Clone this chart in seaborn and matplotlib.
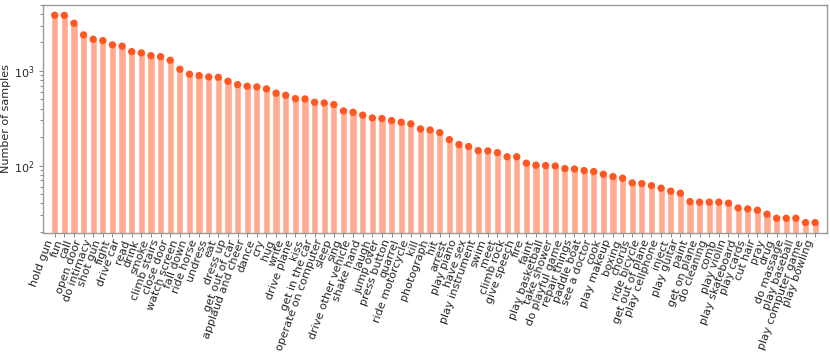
import numpy as np
import pandas as pd
import matplotlib
matplotlib.use("Agg")
import matplotlib.pyplot as plt
import seaborn as sns

# action classes, sorted by sample count
actions = [
    "hold gun", "fun", "call", "open door", "do intimacy", "shot gun", "fight",
    "drive car", "read", "drink", "smoke", "climb stairs", "close door",
    "watch screen", "fall down", "ride horse", "undress", "eat", "dress up",
    "get out of car", "applaud and cheer", "dance", "cry", "hug", "write",
    "drive plane", "kiss", "get in the car", "operate on computer", "sleep",
    "sing", "drive other vehicle", "shake hand", "laugh", "jump over",
    "press button", "quarrel", "ride motorcycle", "kill", "photograph", "hit",
    "arrest", "play piano", "have sex", "play instrument", "swim", "meet",
    "climb rock", "give speech", "fire", "faint", "play basketball",
    "take shower", "do playful game", "repair things", "paddle boat",
    "see a doctor", "cook", "play makeup", "boxing", "chorus", "ride bicycle",
    "get out of plane", "play cellphone", "inject", "play guitar", "paint",
    "get on plane", "do cleaning", "comb", "play violin", "play skateboard",
    "play cards", "cut hair", "pray", "drug", "do massage", "play baseball",
    "play computer game", "play bowling",
]

counts = [
    3875, 3860, 3190, 2400, 2160, 2090, 1885, 1825, 1600, 1550, 1450, 1415,
    1296, 1042, 923, 892, 864, 856, 778, 716, 689, 678, 646, 582, 553,
    510, 506, 467, 459, 441, 378, 366, 341, 319, 314, 299, 287, 276, 244,
    238, 223, 188, 167, 159, 144, 143, 137, 124, 124, 106, 101, 100, 99,
    93, 92, 88.6, 86.5, 81, 76.6, 73.6, 65.7, 64.6, 61.5, 57.7, 53.7, 51.1,
    41.7, 41.1, 41.1, 41.1, 40.1, 35.7, 34.9, 33.8, 30.7, 27.8, 27.8, 27.8,
    25, 25,
]

df = pd.DataFrame({"action": actions, "count": counts})
df["pos"] = np.arange(len(df))

sns.set_style("white")
plt.rcParams["font.family"] = ["DejaVu Sans"]

fig = plt.figure(figsize=(8.3, 3.59), dpi=100)
ax = fig.add_axes([0.052, 0.352, 0.944, 0.635])

sns.barplot(data=df, x="pos", y="count", color="#FFAB91", saturation=1,
            width=0.75, ax=ax, native_scale=True)
sns.scatterplot(data=df, x="pos", y="count", color="#FF5722", s=28,
                edgecolor="none", ax=ax, zorder=3)
ax.set_yscale("log")

ax.set_xlim(-1.2, len(df) - 1 + 1.2)
ax.set_ylim(19.6, 5010)
ax.set_xlabel("")
ax.set_ylabel("Number of samples", fontsize=8, labelpad=2)
ax.set_xticks(df["pos"])
ax.set_xticklabels(df["action"], rotation=70, ha="right", fontsize=8)
ax.tick_params(axis="y", labelsize=8)
ax.tick_params(axis="both", which="both", color="#888888", length=3, width=0.7)
ax.tick_params(axis="y", which="minor", length=2, color="#888888", left=True)
ax.tick_params(axis="x", bottom=True, pad=1)
ax.tick_params(axis="y", which="major", left=True)
for sp in ax.spines.values():
    sp.set_color("#999999")
    sp.set_linewidth(1)

fig.savefig("out.png", dpi=100)
